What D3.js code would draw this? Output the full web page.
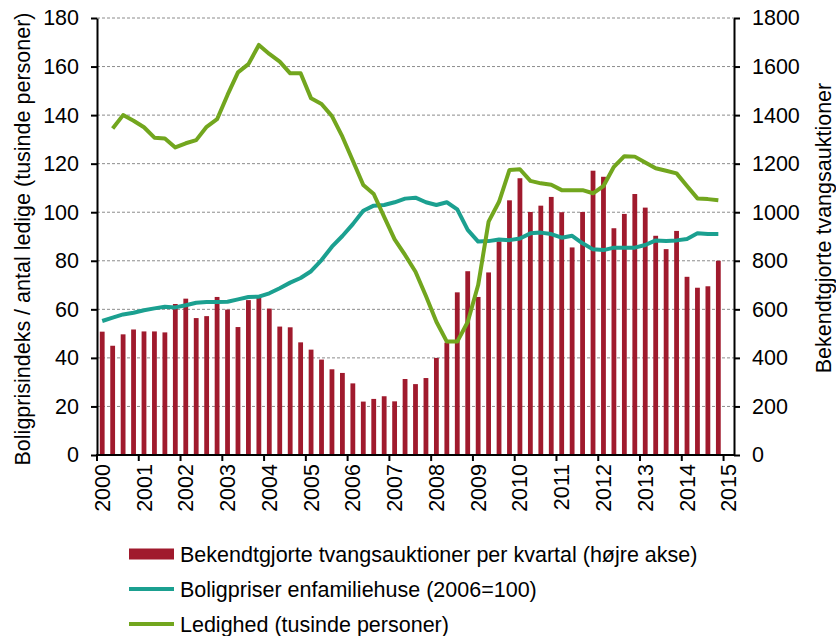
<!DOCTYPE html>
<html>
<head>
<meta charset="utf-8">
<script src="https://cdn.jsdelivr.net/npm/d3@7"></script>
<style>
  html, body { margin: 0; padding: 0; background: #fff; }
  svg { display: block; font-family: "Liberation Sans", Arial, sans-serif; }
</style>
</head>
<body>
<svg id="chart" width="836" height="636"></svg>
<script>
// ---- data ----
const years = ["2000","2001","2002","2003","2004","2005","2006","2007","2008","2009","2010","2011","2012","2013","2014","2015"];
const quarters = [];
years.forEach(y => { for (let q = 1; q <= 4; q++) quarters.push(y + "K" + q); });
const categories = quarters.slice(0, 61); // 2000K1 .. 2015K1

// Bekendtgjorte tvangsauktioner per kvartal (right axis)
const auctions = [508,450,497,517,509,509,505,622,644,564,572,651,599,527,638,649,603,529,526,464,
                  434,393,353,338,295,220,231,242,221,313,292,317,400,463,670,757,651,752,880,1049,
                  1140,1001,1027,1063,1000,855,1001,1171,1146,934,993,1075,1019,903,848,923,734,689,695,800];
// Boligpriser enfamiliehuse (2006=100), left axis
const housePrices = [55.2,56.6,57.9,58.6,59.6,60.4,61.1,60.8,61.7,62.7,63.0,63.0,63.1,64.1,65.1,65.2,66.6,68.7,71.0,72.9,
                     75.7,80.3,85.8,90.2,95.1,100.6,102.7,103.0,104.1,105.6,106.0,104.1,103.0,104.1,101.2,92.7,87.9,88.1,88.8,88.5,
                     89.2,91.3,91.6,91.0,89.5,90.3,87.2,84.7,84.4,85.4,85.4,85.4,86.5,88.4,88.1,88.4,89.0,91.3,91.0,91.0];
// Ledighed (tusinde personer), left axis
const unemployment = [null,134.5,140.0,137.7,135.0,130.7,130.4,126.7,128.4,129.7,135.2,138.3,148.3,157.6,161.0,168.9,165.2,162.0,157.2,157.2,
                      146.9,144.6,139.6,131.1,121.2,111.2,107.5,98.1,88.8,82.4,75.5,65.5,54.9,46.7,46.7,54.8,70.0,96.1,104.3,117.4,
                      117.7,112.9,111.9,111.3,109.1,109.1,109.1,107.8,110.8,118.7,123.1,122.9,120.5,118.1,117.1,116.0,110.8,105.7,105.4,104.9];

const leftTicks = [0,20,40,60,80,100,120,140,160,180];
const rightTicks = [0,200,400,600,800,1000,1200,1400,1600,1800];

const seriesNames = ["Bekendtgjorte tvangsauktioner per kvartal (højre akse)",
                     "Boligpriser enfamiliehuse (2006=100)",
                     "Ledighed (tusinde personer)"];
const colors = { bar: "#A01A2D", teal: "#1BA090", green: "#72A61E" };

// ---- layout ----
const svg = d3.select("#chart");
const X0 = 97, X1 = 734, Y0 = 455, Y1 = 18;
const FS = 21.5;

const x = d3.scaleBand().domain(categories).range([X0, X1]).paddingInner(0).paddingOuter(0);
const yL = d3.scaleLinear().domain([0, 180]).range([Y0, Y1]);
const yR = d3.scaleLinear().domain([0, 1800]).range([Y0, Y1]);
const cx = c => x(c) + x.bandwidth() / 2;

// gridlines
svg.append("g").selectAll("line").data(leftTicks.filter(d => d > 0)).join("line")
  .attr("x1", X0).attr("x2", X1)
  .attr("y1", d => yL(d)).attr("y2", d => yL(d))
  .attr("stroke", "#8c8c8c").attr("stroke-width", 1).attr("stroke-dasharray", "3,2");

// bars
const barW = 4.8;
svg.append("g").selectAll("rect").data(auctions).join("rect")
  .attr("x", (d, i) => cx(categories[i]) - barW / 2)
  .attr("width", barW)
  .attr("y", d => yR(d))
  .attr("height", d => Y0 - yR(d))
  .attr("fill", colors.bar);

// lines
const lineGen = d3.line()
  .defined(d => d.v != null)
  .x(d => cx(categories[d.i]))
  .y(d => yL(d.v));
svg.append("path")
  .datum(housePrices.map((v, i) => ({ i, v })))
  .attr("d", lineGen).attr("fill", "none")
  .attr("stroke", colors.teal).attr("stroke-width", 4).attr("stroke-linejoin", "round");
svg.append("path")
  .datum(unemployment.map((v, i) => ({ i, v })))
  .attr("d", lineGen).attr("fill", "none")
  .attr("stroke", colors.green).attr("stroke-width", 4).attr("stroke-linejoin", "round");

// left axis
const axL = svg.append("g").attr("transform", `translate(${X0},0)`)
  .call(d3.axisLeft(yL).tickValues(leftTicks).tickFormat(d3.format("d")).tickSize(6).tickPadding(12).tickSizeOuter(0));
// right axis
const axR = svg.append("g").attr("transform", `translate(${X1},0)`)
  .call(d3.axisRight(yR).tickValues(rightTicks).tickFormat(d3.format("d")).tickSize(6).tickPadding(12).tickSizeOuter(0));
// bottom axis: ticks at every 4th category boundary, labels at category centres
const axB = svg.append("g").attr("transform", `translate(0,${Y0})`);
axB.append("line").attr("x1", X0 - 1).attr("x2", X1 + 1).attr("stroke", "#000").attr("stroke-width", 2);
const yearCats = categories.filter((c, i) => i % 4 === 0);
axB.selectAll("line.tick").data(yearCats).join("line").attr("class", "tick")
  .attr("x1", c => x(c)).attr("x2", c => x(c)).attr("y1", 0).attr("y2", 6)
  .attr("stroke", "#000").attr("stroke-width", 2);
axB.selectAll("text").data(yearCats).join("text")
  .attr("transform", c => `translate(${cx(c)},9) rotate(-90)`)
  .attr("text-anchor", "end").attr("dy", "0.35em")
  .attr("font-size", FS).attr("fill", "#000")
  .text((c, i) => years[i]);

[axL, axR].forEach(a => {
  a.select(".domain").attr("stroke", "#000").attr("stroke-width", 2);
  a.selectAll(".tick line").attr("stroke", "#000").attr("stroke-width", 2);
  a.selectAll(".tick text").attr("font-size", FS).attr("fill", "#000").attr("font-family", "Liberation Sans, Arial, sans-serif");
});

// axis titles
svg.append("text").attr("transform", "translate(22,239) rotate(-90)")
  .attr("text-anchor", "middle").attr("dy", "0.35em").attr("font-size", FS).attr("fill", "#000")
  .text("Boligprisindeks / antal ledige (tusinde personer)");
svg.append("text").attr("transform", "translate(823,228) rotate(-90)")
  .attr("text-anchor", "middle").attr("dy", "0.35em").attr("font-size", FS).attr("fill", "#000")
  .text("Bekendtgjorte tvangsauktioner");

// legend
const leg = svg.append("g");
const rowY = [554, 589, 624];
leg.append("rect").attr("x", 129).attr("y", rowY[0] - 5.5).attr("width", 45).attr("height", 11).attr("fill", colors.bar);
leg.append("line").attr("x1", 129).attr("x2", 174).attr("y1", rowY[1]).attr("y2", rowY[1])
  .attr("stroke", colors.teal).attr("stroke-width", 4);
leg.append("line").attr("x1", 129).attr("x2", 174).attr("y1", rowY[2]).attr("y2", rowY[2])
  .attr("stroke", colors.green).attr("stroke-width", 4);
leg.selectAll("text").data(seriesNames).join("text")
  .attr("x", 180).attr("y", (d, i) => rowY[i]).attr("dy", "0.35em")
  .attr("font-size", FS).attr("fill", "#000").text(d => d);
</script>
</body>
</html>
